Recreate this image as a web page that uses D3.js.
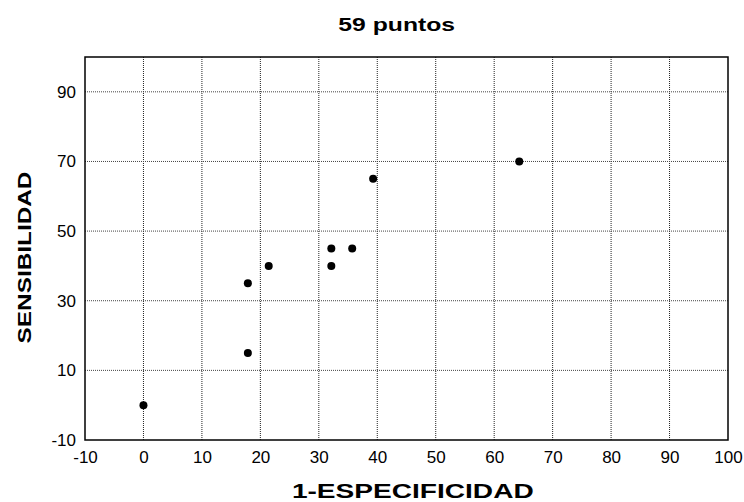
<!DOCTYPE html>
<html>
<head>
<meta charset="utf-8">
<script src="https://cdn.jsdelivr.net/npm/d3@7.9.0/dist/d3.min.js"></script>
<style>
  body { margin: 0; background: #fff; }
  svg text { font-family: "Liberation Sans", Arial, sans-serif; fill: #000; }
</style>
</head>
<body>
<svg id="chart" width="744" height="502"></svg>
<script>
// data (1-especificidad %, sensibilidad %)
const especificidad1 = [0, 17.86, 17.86, 21.43, 32.14, 32.14, 35.71, 39.29, 64.29];
const sensibilidad = [0, 15, 35, 40, 45, 40, 45, 65, 70];
const xTicks = [-10, 0, 10, 20, 30, 40, 50, 60, 70, 80, 90, 100];
const yTicks = [-10, 10, 30, 50, 70, 90];

const points = especificidad1.map((x, i) => ({ x: x, y: sensibilidad[i] }));

const svg = d3.select('#chart');
const margin = { left: 85, right: 16, top: 57, bottom: 62 };
const width = 744 - margin.left - margin.right;
const height = 502 - margin.top - margin.bottom;

let x = d3.scaleLinear().domain([-10, 100]).range([0, width]);
let y = d3.scaleLinear().domain([-10, 100]).range([height, 0]);

const g = svg.append('g').attr('transform', `translate(${margin.left},${margin.top})`);

// grid
g.selectAll('.vgrid').data(xTicks.slice(1, -1)).join('line')
  .attr('x1', d => x(d)).attr('x2', d => x(d))
  .attr('y1', 0).attr('y2', height)
  .attr('stroke', '#222').attr('stroke-width', 1).attr('stroke-dasharray', '1,1');
g.selectAll('.hgrid').data(yTicks.slice(1)).join('line')
  .attr('x1', 0).attr('x2', width)
  .attr('y1', d => y(d)).attr('y2', d => y(d))
  .attr('stroke', '#444').attr('stroke-width', 1).attr('stroke-dasharray', '1,1');

// frame
g.append('rect').attr('width', width).attr('height', height)
  .attr('fill', 'none').attr('stroke', '#000').attr('stroke-width', 1.5);

// axes (plain hyphen for negatives, like the original)
const fmt = d => String(d);
const xAxis = g.append('g').attr('transform', `translate(0,${height})`)
  .call(d3.axisBottom(x).tickValues(xTicks).tickFormat(fmt).tickSize(0).tickPadding(11));
const yAxis = g.append('g')
  .call(d3.axisLeft(y).tickValues(yTicks).tickFormat(fmt).tickSize(0).tickPadding(9));
[xAxis, yAxis].forEach(a => {
  a.select('.domain').remove();
  a.selectAll('text').attr('font-size', 17).attr('font-family', '"Liberation Sans", Arial, sans-serif');
});

// points
g.selectAll('circle').data(points).join('circle')
  .attr('cx', d => x(d.x)).attr('cy', d => y(d.y))
  .attr('r', 4).attr('fill', '#000');

// titles, glyphs stretched wide like the original
svg.append('text').attr('transform', 'translate(396.7,30.7) scale(1.33,1)')
  .attr('text-anchor', 'middle').attr('font-weight', 'bold').attr('font-size', 18.6)
  .text('59 puntos');
svg.append('text').attr('transform', 'translate(412.8,498) scale(1.37,1)')
  .attr('text-anchor', 'middle').attr('font-weight', 'bold').attr('font-size', 20.5)
  .text('1-ESPECIFICIDAD');
svg.append('text').attr('transform', 'translate(31,257.5) rotate(-90) scale(1.31,1)')
  .attr('text-anchor', 'middle').attr('font-weight', 'bold').attr('font-size', 18.6)
  .text('SENSIBILIDAD');
</script>
</body>
</html>
